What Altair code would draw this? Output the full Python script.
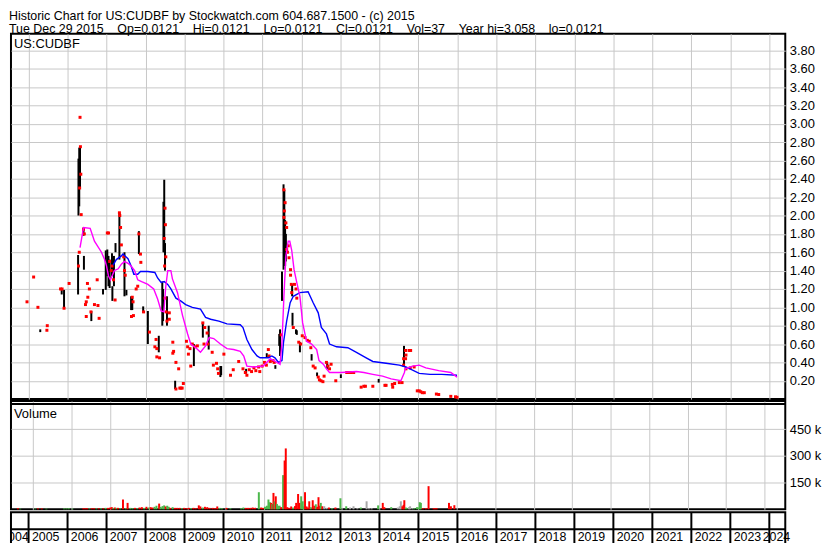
import altair as alt
import pandas as pd

FONT = "Liberation Sans"
GRID = "#c8c8c8"
X_DOMAIN = [2004.549, 2024.409]
W = 780
H_PRICE = 368
H_VOL = 109
H_AXIS = 32
PRICE_TOP = 3.98
VOL_TOP = 608000

GAP = "\u00a0\u00a0\u00a0\u00a0"
TITLE_1 = "Historic Chart for US:CUDBF by Stockwatch.com 604.687.1500 - (c) 2015"
TITLE_2 = GAP.join(["Tue Dec 29 2015", "Op=0.0121", "Hi=0.0121", "Lo=0.0121",
                    "Cl=0.0121", "Vol=37", "Year hi=3.058", "lo=0.0121"])

grid_years = [2005, 2006, 2007, 2008, 2009, 2010, 2011, 2012, 2013, 2014,
              2015, 2016, 2017, 2018, 2019, 2020, 2021, 2022, 2023, 2024]
label_years = [2004] + grid_years
price_ticks = [0.2, 0.4, 0.6, 0.8, 1.0, 1.2, 1.4, 1.6, 1.8, 2.0,
               2.2, 2.4, 2.6, 2.8, 3.0, 3.2, 3.4, 3.6, 3.8]
vol_ticks = [150000, 300000, 450000]

# high-low bars (black)
bar_t = [2005.30, 2005.85, 2005.91, 2006.27, 2006.28, 2006.30, 2006.32, 2006.41, 2006.42, 2006.61,
         2006.91, 2006.98, 2007.02, 2007.05, 2007.08, 2007.14, 2007.15, 2007.19, 2007.23, 2007.33,
         2007.46, 2007.51, 2007.63, 2007.66, 2007.83, 2007.94, 2008.06, 2008.34, 2008.43, 2008.45,
         2008.46, 2008.48, 2008.50, 2008.55, 2008.76, 2009.24, 2009.47, 2009.62, 2009.92, 2009.94,
         2010.58, 2011.11, 2011.33, 2011.43, 2011.45, 2011.50, 2011.54, 2011.56, 2011.58, 2011.60,
         2011.76, 2011.77, 2011.86, 2011.88, 2011.96, 2012.26, 2012.40, 2012.66, 2013.01, 2013.98,
         2014.63]
bar_lo = [0.73, 1.14, 0.99, 1.14, 2.00, 2.10, 2.30, 1.78, 1.41, 0.85,
          1.14, 1.19, 1.34, 1.23, 1.21, 1.34, 1.07, 1.23, 1.60, 1.52,
          1.12, 1.13, 0.97, 0.97, 1.58, 0.94, 0.60, 0.51, 0.80, 0.85,
          1.60, 1.60, 1.40, 0.80, 0.11, 0.36, 0.67, 0.54, 0.24, 0.26,
          0.28, 0.45, 0.33, 0.58, 0.47, 1.07, 1.41, 1.55, 1.45, 1.50,
          1.12, 0.80, 0.71, 0.70, 0.51, 0.42, 0.25, 0.33, 0.23, 0.18,
          0.36]
bar_hi = [0.76, 1.20, 1.19, 1.57, 2.62, 2.74, 2.75, 1.87, 1.56, 0.96,
          1.20, 1.62, 1.63, 1.56, 1.52, 1.59, 1.23, 1.56, 1.70, 2.03,
          1.60, 1.19, 1.12, 1.10, 1.83, 1.01, 0.96, 0.69, 1.28, 1.20,
          2.15, 2.39, 1.70, 1.12, 0.20, 0.60, 0.83, 0.80, 0.36, 0.36,
          0.33, 0.50, 0.37, 0.71, 0.76, 1.39, 2.34, 2.28, 1.95, 1.80,
          1.25, 0.94, 0.76, 0.75, 0.62, 0.49, 0.29, 0.40, 0.27, 0.22,
          0.58]

# single-price trades (red squares)
dot_t = [2004.96, 2005.13, 2005.24, 2005.48, 2005.47, 2005.82, 2005.86, 2005.91, 2006.04, 2006.32,
         2006.33, 2006.34, 2006.31, 2006.35, 2006.30, 2006.28, 2006.41, 2006.43, 2006.51, 2006.56,
         2006.52, 2006.48, 2006.46, 2006.60, 2006.48, 2006.69, 2006.78, 2006.76, 2006.81, 2007.02,
         2007.05, 2007.08, 2007.12, 2007.14, 2007.18, 2007.22, 2007.33, 2007.34, 2007.36, 2007.38,
         2007.44, 2007.46, 2007.48, 2007.64, 2007.69, 2007.66, 2007.68, 2007.76, 2007.80, 2007.83,
         2007.87, 2007.88, 2007.95, 2008.10, 2008.27, 2008.24, 2008.29, 2008.29, 2008.36, 2008.50,
         2008.51, 2008.48, 2008.52, 2008.49, 2008.50, 2008.53, 2008.55, 2008.61, 2008.61, 2008.70,
         2008.70, 2008.72, 2008.78, 2008.85, 2008.78, 2008.88, 2008.91, 2008.94, 2008.97, 2009.05,
         2009.08, 2009.10, 2009.14, 2009.16, 2009.20, 2009.27, 2009.33, 2009.47, 2009.52, 2009.58,
         2009.50, 2009.60, 2009.71, 2009.74, 2009.82, 2009.85, 2009.87, 2010.01, 2010.18, 2010.25,
         2010.39, 2010.50, 2010.56, 2010.60, 2010.66, 2010.72, 2010.78, 2010.83, 2010.90, 2010.93,
         2010.99, 2011.05, 2011.10, 2011.15, 2011.17, 2011.20, 2011.27, 2011.30, 2011.48, 2011.55,
         2011.58, 2011.56, 2011.55, 2011.60, 2011.62, 2011.62, 2011.64, 2011.66, 2011.68, 2011.72,
         2011.72, 2011.74, 2011.75, 2011.79, 2011.82, 2011.86, 2011.88, 2011.93, 2011.98, 2012.02,
         2012.09, 2012.15, 2012.20, 2012.24, 2012.30, 2012.35, 2012.43, 2012.46, 2012.50, 2012.55,
         2012.58, 2012.64, 2012.68, 2012.72, 2012.76, 2012.88, 2013.16, 2013.22, 2013.28, 2013.34,
         2013.53, 2013.60, 2013.64, 2013.83, 2014.14, 2014.17, 2014.34, 2014.33, 2014.39, 2014.51,
         2014.58, 2014.62, 2014.62, 2014.67, 2014.67, 2014.68, 2014.76, 2014.80, 2014.68, 2014.79,
         2014.89, 2014.97, 2015.02, 2015.06, 2015.10, 2015.15, 2015.46, 2015.52, 2015.83, 2015.95,
         2015.99]
dot_p = [1.06, 1.33, 1.00, 0.80, 0.75, 1.20, 1.20, 0.99, 1.26, 3.07,
         2.75, 2.45, 2.30, 2.01, 1.60, 1.45, 1.85, 1.80, 1.26, 1.20,
         1.11, 1.06, 1.03, 0.95, 0.90, 1.03, 1.02, 1.30, 0.88, 1.81,
         1.81, 1.50, 1.40, 1.45, 1.30, 1.08, 2.03, 2.00, 1.87, 1.68,
         1.55, 1.40, 1.35, 0.90, 0.91, 1.11, 1.06, 1.20, 1.23, 1.80,
         1.58, 1.49, 0.95, 0.73, 0.65, 0.57, 0.55, 0.46, 0.45, 2.08,
         1.90, 1.75, 1.55, 1.45, 1.10, 0.95, 0.85, 0.94, 0.87, 0.62,
         0.50, 0.52, 0.40, 0.33, 0.11, 0.12, 0.12, 0.12, 0.17, 0.63,
         0.57, 0.49, 0.55, 0.36, 0.60, 0.57, 0.58, 0.83, 0.78, 0.72,
         0.60, 0.60, 0.51, 0.37, 0.39, 0.33, 0.28, 0.49, 0.26, 0.32,
         0.41, 0.33, 0.29, 0.26, 0.32, 0.30, 0.34, 0.31, 0.35, 0.30,
         0.36, 0.40, 0.37, 0.54, 0.47, 0.41, 0.42, 0.40, 0.70, 2.28,
         2.14, 2.05, 1.98, 1.92, 1.87, 1.63, 1.60, 1.67, 1.54, 1.41,
         1.35, 1.25, 1.16, 0.78, 1.25, 1.20, 1.10, 0.62, 0.60, 0.69,
         0.67, 0.64, 0.63, 0.56, 0.36, 0.34, 0.24, 0.21, 0.20, 0.19,
         0.25, 0.40, 0.36, 0.33, 0.38, 0.20, 0.29, 0.29, 0.29, 0.29,
         0.13, 0.14, 0.14, 0.14, 0.15, 0.15, 0.13, 0.16, 0.17, 0.18,
         0.18, 0.44, 0.37, 0.53, 0.44, 0.48, 0.53, 0.53, 0.33, 0.34,
         0.35, 0.09, 0.09, 0.08, 0.07, 0.07, 0.055, 0.05, 0.03, 0.025,
         0.02]

# short moving average (magenta)
ma_s_t = [2006.32, 2006.41, 2006.58, 2006.69, 2006.87, 2006.95, 2007.00, 2007.05, 2007.10, 2007.20,
          2007.30, 2007.38, 2007.46, 2007.55, 2007.63, 2007.72, 2007.80, 2007.90, 2008.06, 2008.21,
          2008.31, 2008.40, 2008.47, 2008.52, 2008.57, 2008.65, 2008.69, 2008.82, 2008.95, 2009.08,
          2009.16, 2009.29, 2009.41, 2009.54, 2009.63, 2009.75, 2009.92, 2010.09, 2010.26, 2010.43,
          2010.52, 2010.60, 2010.77, 2011.02, 2011.20, 2011.37, 2011.45, 2011.50, 2011.55, 2011.60,
          2011.66, 2011.70, 2011.75, 2011.81, 2011.88, 2011.96, 2012.03, 2012.13, 2012.26, 2012.39,
          2012.45, 2012.56, 2012.64, 2012.72, 2013.02, 2013.41, 2013.60, 2013.83, 2014.08, 2014.30,
          2014.55, 2014.64, 2014.66, 2014.85, 2015.02, 2015.19, 2015.52, 2015.83, 2015.99]
ma_s_v = [1.65, 1.87, 1.86, 1.72, 1.60, 1.52, 1.45, 1.34, 1.30, 1.40,
          1.42, 1.47, 1.50, 1.48, 1.45, 1.40, 1.30, 1.28, 1.25, 1.20,
          1.09, 0.96, 0.95, 1.23, 1.40, 1.40, 1.31, 1.16, 0.91, 0.71,
          0.60, 0.56, 0.51, 0.58, 0.67, 0.66, 0.60, 0.55, 0.54, 0.52,
          0.47, 0.36, 0.35, 0.36, 0.44, 0.40, 0.38, 0.62, 1.12, 1.56,
          1.72, 1.72, 1.62, 1.41, 1.27, 1.12, 0.83, 0.63, 0.60, 0.54,
          0.42, 0.38, 0.33, 0.29, 0.29, 0.30, 0.29, 0.27, 0.25, 0.22,
          0.20, 0.29, 0.33, 0.36, 0.37, 0.34, 0.31, 0.29, 0.24]

# long moving average (blue)
ma_l_t = [2007.17, 2007.25, 2007.38, 2007.42, 2007.55, 2007.63, 2007.70, 2007.80, 2007.87, 2008.06,
          2008.24, 2008.31, 2008.40, 2008.48, 2008.57, 2008.65, 2008.78, 2008.90, 2009.03, 2009.20,
          2009.41, 2009.54, 2009.67, 2009.88, 2010.09, 2010.43, 2010.50, 2010.60, 2010.73, 2010.86,
          2010.94, 2011.15, 2011.24, 2011.32, 2011.41, 2011.50, 2011.54, 2011.62, 2011.71, 2011.79,
          2011.96, 2012.17, 2012.30, 2012.43, 2012.51, 2012.64, 2012.72, 2012.90, 2013.19, 2013.41,
          2013.66, 2013.83, 2014.17, 2014.51, 2014.68, 2015.02, 2015.30, 2015.60, 2015.99]
ma_l_v = [1.46, 1.52, 1.56, 1.58, 1.53, 1.45, 1.36, 1.36, 1.39, 1.39,
          1.38, 1.32, 1.27, 1.28, 1.25, 1.20, 1.10, 1.07, 1.03, 1.00,
          0.98, 0.89, 0.87, 0.85, 0.82, 0.81, 0.78, 0.65, 0.54, 0.47,
          0.45, 0.45, 0.47, 0.45, 0.40, 0.42, 0.62, 0.85, 1.05, 1.12,
          1.16, 1.17, 1.05, 0.94, 0.78, 0.71, 0.60, 0.57, 0.56, 0.51,
          0.45, 0.41, 0.39, 0.37, 0.35, 0.28, 0.27, 0.27, 0.26]

# volume (thousands of shares); U = up day, D = down day, F = unchanged
vol_t = [2004.60, 2004.66, 2005.05, 2005.12, 2005.22, 2005.34, 2005.80, 2005.86, 2005.92, 2006.02,
         2006.30, 2006.35, 2006.40, 2006.46, 2006.52, 2006.58, 2006.64, 2006.70, 2006.76, 2006.82,
         2006.88, 2006.94, 2007.00, 2007.04, 2007.08, 2007.12, 2007.16, 2007.20, 2007.26, 2007.33,
         2007.40, 2007.45, 2007.52, 2007.58, 2007.64, 2007.70, 2007.76, 2007.82, 2007.88, 2007.94,
         2008.00, 2008.05, 2008.10, 2008.15, 2008.20, 2008.27, 2008.31, 2008.36, 2008.40, 2008.44,
         2008.48, 2008.52, 2008.56, 2008.62, 2008.68, 2008.74, 2008.80, 2008.86, 2008.92, 2008.98,
         2009.04, 2009.10, 2009.16, 2009.22, 2009.30, 2009.34, 2009.40, 2009.46, 2009.52, 2009.58,
         2009.66, 2009.72, 2009.78, 2009.84, 2009.90, 2010.02, 2010.12, 2010.40, 2010.46, 2010.52,
         2010.58, 2010.64, 2010.70, 2010.76, 2010.86, 2010.92, 2010.97, 2011.02, 2011.07, 2011.11,
         2011.15, 2011.18, 2011.21, 2011.24, 2011.27, 2011.30, 2011.33, 2011.36, 2011.40, 2011.44,
         2011.49, 2011.53, 2011.56, 2011.60, 2011.65, 2011.70, 2011.75, 2011.80, 2011.83, 2011.88,
         2011.92, 2011.96, 2012.00, 2012.03, 2012.06, 2012.10, 2012.13, 2012.17, 2012.21, 2012.26,
         2012.30, 2012.34, 2012.38, 2012.41, 2012.44, 2012.47, 2012.51, 2012.56, 2012.62, 2012.68,
         2012.76, 2012.85, 2012.98, 2013.13, 2013.23, 2013.32, 2013.42, 2013.51, 2013.66, 2013.72,
         2013.79, 2013.96, 2014.08, 2014.12, 2014.30, 2014.47, 2014.52, 2014.55, 2014.59, 2014.62,
         2014.64, 2014.68, 2014.72, 2014.76, 2014.79, 2014.85, 2014.90, 2014.97, 2015.02, 2015.04,
         2015.07, 2015.12, 2015.20, 2015.27, 2015.40, 2015.44, 2015.48, 2015.80, 2015.85, 2015.94]
vol_k = [6, 4, 4, 5, 5, 4, 5, 5, 6, 4,
         6, 6, 6, 5, 6, 6, 5, 6, 5, 6,
         8, 8, 10, 12, 8, 10, 8, 8, 6, 55,
         6, 36, 8, 6, 8, 6, 10, 12, 8, 14,
         10, 12, 10, 14, 20, 32, 14, 18, 22, 16,
         20, 14, 8, 12, 8, 8, 8, 6, 8, 6,
         8, 6, 8, 6, 22, 16, 10, 14, 12, 8,
         8, 6, 16, 8, 6, 8, 6, 6, 10, 8,
         8, 8, 10, 8, 96, 10, 8, 14, 20, 55,
         40, 36, 30, 92, 45, 73, 30, 20, 20, 12,
         192, 274, 342, 12, 8, 16, 10, 18, 36, 86,
         36, 73, 45, 16, 96, 16, 10, 45, 12, 51,
         20, 28, 14, 68, 20, 36, 17, 17, 8, 10,
         6, 10, 62, 17, 10, 17, 6, 10, 45, 6,
         6, 22, 36, 12, 12, 10, 17, 45, 17, 25,
         51, 10, 6, 12, 17, 6, 6, 12, 10, 40,
         36, 6, 6, 130, 6, 6, 6, 36, 17, 23]
vol_dir = ["D", "U", "U", "D", "D", "U", "U", "U", "U", "U",
           "D", "D", "D", "U", "D", "D", "U", "D", "U", "D",
           "U", "D", "D", "D", "U", "D", "U", "D", "U", "D",
           "U", "D", "U", "U", "D", "U", "D", "D", "U", "D",
           "U", "D", "D", "U", "U", "D", "U", "U", "U", "D",
           "U", "U", "D", "U", "D", "D", "D", "U", "D", "D",
           "D", "U", "D", "D", "D", "D", "U", "D", "D", "D",
           "D", "D", "D", "U", "U", "D", "U", "U", "U", "D",
           "D", "D", "D", "D", "U", "D", "D", "U", "U", "U",
           "U", "D", "U", "D", "U", "D", "U", "U", "U", "D",
           "U", "D", "D", "D", "D", "D", "U", "D", "D", "D",
           "D", "U", "U", "U", "D", "D", "D", "D", "U", "D",
           "D", "U", "D", "D", "D", "U", "D", "F", "F", "D",
           "U", "D", "U", "U", "F", "F", "F", "U", "F", "F",
           "F", "U", "D", "D", "U", "F", "F", "F", "D", "D",
           "D", "U", "U", "F", "F", "F", "U", "U", "U", "U",
           "U", "D", "D", "D", "D", "D", "D", "D", "D", "D"]

# ---------------------------------------------------------------- tables
bars_df = pd.DataFrame({"t": bar_t, "lo": bar_lo, "hi": bar_hi})
dots_df = pd.DataFrame({"t": dot_t, "p": dot_p})
mas_df = pd.DataFrame({"t": ma_s_t, "v": ma_s_v})
mal_df = pd.DataFrame({"t": ma_l_t, "v": ma_l_v})
vol_df = pd.DataFrame({"t": vol_t, "vol": [k * 1000 for k in vol_k], "dir": vol_dir})
grid_df = pd.DataFrame({"year": grid_years})
# label start: just right of each year line; the first one is pushed so it ends before the
# 2005 line (and gets clipped at the panel edge), the last one is pulled in to the panel edge
lab_df = pd.DataFrame({
    "label": [str(y) for y in label_years],
    "lt": [min(max(y + 0.085, X_DOMAIN[0] - 0.25), X_DOMAIN[1] - 0.58) for y in label_years],
})
first_lab = lab_df.iloc[:1]
rest_lab = lab_df.iloc[1:]
one = pd.DataFrame({"k": [0]})

xs = alt.Scale(domain=X_DOMAIN, nice=False, zero=False)
x_axis = alt.Axis(values=grid_years, grid=True, gridColor=GRID, gridWidth=1, labels=False,
                  ticks=False, domain=False, title=None)


def X(field="t"):
    return alt.X(f"{field}:Q", scale=xs, axis=x_axis)


ys = alt.Scale(domain=[0, PRICE_TOP], nice=False, zero=True)
y_axis = alt.Axis(orient="right", values=price_ticks, format=".2f", grid=True, gridColor=GRID,
                  gridWidth=1, ticks=False, domain=False, labelPadding=4, labelFontSize=13,
                  labelColor="black", labelFont=FONT, title=None)


def Y(field):
    return alt.Y(f"{field}:Q", scale=ys, axis=y_axis)


bars = alt.Chart(bars_df).mark_rule(color="black", strokeWidth=2).encode(
    x=X(), y=Y("lo"), y2="hi:Q")
dots = alt.Chart(dots_df).mark_square(color="#ff0000", size=9, opacity=1).encode(
    x=X(), y=Y("p"))
ma_long = alt.Chart(mal_df).mark_line(color="#0000ff", strokeWidth=1.4).encode(
    x=X(), y=Y("v"))
ma_short = alt.Chart(mas_df).mark_line(color="#ff00ff", strokeWidth=1.4).encode(
    x=X(), y=Y("v"))
sym_label = alt.Chart(one).mark_text(
    text="US:CUDBF", align="left", baseline="middle", fontSize=13, font=FONT, color="black"
).encode(x=alt.value(3), y=alt.value(10))

price = alt.layer(bars, dots, ma_long, ma_short, sym_label).properties(width=W, height=H_PRICE)

vs = alt.Scale(domain=[0, VOL_TOP], nice=False, zero=True)
v_axis = alt.Axis(orient="right", values=vol_ticks, labelExpr="datum.value / 1000 + ' k'",
                  grid=True, gridColor=GRID, gridWidth=1, ticks=False, domain=False,
                  labelPadding=4, labelFontSize=13, labelColor="black", labelFont=FONT, title=None)
vbars = alt.Chart(vol_df).mark_bar(size=2).encode(
    x=X(),
    y=alt.Y("vol:Q", scale=vs, axis=v_axis),
    color=alt.Color("dir:N", scale=alt.Scale(domain=["U", "D", "F"],
                                             range=["#4cb84c", "#ff0000", "#a8a8a8"]), legend=None),
)
vtop = alt.Chart(one).mark_rule(color="black", strokeWidth=2).encode(
    x=alt.value(0), x2=alt.value(W), y=alt.value(3))
vlabel = alt.Chart(one).mark_text(
    text="Volume", align="left", baseline="middle", fontSize=13, font=FONT, color="black"
).encode(x=alt.value(3), y=alt.value(13))
volume = alt.layer(vbars, vtop, vlabel).properties(width=W, height=H_VOL)

ax_rules = alt.Chart(grid_df).mark_rule(color="black", strokeWidth=2).encode(
    x=alt.X("year:Q", scale=xs, axis=None), y=alt.value(0), y2=alt.value(H_AXIS))
ax_mid = alt.Chart(one).mark_rule(color="black", strokeWidth=2).encode(
    x=alt.value(0), x2=alt.value(W), y=alt.value(17))
ax_first = alt.Chart(first_lab).mark_text(
    align="left", baseline="middle", fontSize=12.5, font=FONT, color="black", clip=True
).encode(x=alt.X("lt:Q", scale=xs, axis=None), y=alt.value(25), text="label:N")
ax_text = alt.Chart(rest_lab).mark_text(
    align="left", baseline="middle", fontSize=12.5, font=FONT, color="black"
).encode(x=alt.X("lt:Q", scale=xs, axis=None), y=alt.value(25), text="label:N")
axis_panel = alt.layer(ax_rules, ax_mid, ax_first, ax_text).properties(width=W, height=H_AXIS)

chart = alt.vconcat(price, volume, axis_panel, spacing=0).properties(
    title=alt.TitleParams(text=[TITLE_1, TITLE_2], anchor="start", fontSize=12.5,
                          fontWeight="normal", font=FONT, color="black", lineHeight=12.5,
                          offset=-2.5),
    padding={"left": 1, "top": 0, "right": 0, "bottom": 0},
    background="white",
).configure_view(stroke="black", strokeWidth=2)

chart.save("out.html", embed_options={"renderer": "svg", "actions": False})
